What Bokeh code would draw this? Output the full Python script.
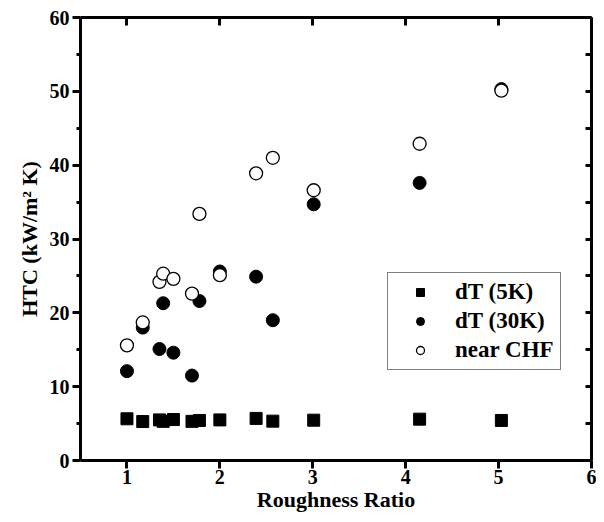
from bokeh.plotting import figure
from bokeh.models import LinearAxis, FixedTicker, Range1d, Legend, LegendItem
from bokeh.embed import file_html
from bokeh.resources import INLINE

# ---- data ----
roughness = [1.00, 1.17, 1.35, 1.39, 1.50, 1.70, 1.78, 2.00, 2.39, 2.57, 3.01, 4.15, 5.03]
htc_5k = [5.65, 5.28, 5.50, 5.30, 5.55, 5.30, 5.42, 5.50, 5.70, 5.33, 5.46, 5.60, 5.42]
htc_30k = [12.1, 18.0, 15.1, 21.3, 14.6, 11.5, 21.6, 25.6, 24.9, 19.0, 34.7, 37.6, 50.3]
htc_chf = [15.6, 18.7, 24.2, 25.3, 24.6, 22.6, 33.4, 25.1, 38.9, 41.0, 36.6, 42.9, 50.1]

series_names = ["dT (5K)", "dT (30K)", "near CHF"]
x_ticks = [1, 2, 3, 4, 5, 6]
y_ticks = [0, 10, 20, 30, 40, 50, 60]
y_minor = [5, 15, 25, 35, 45, 55]
y_all = [0, 5, 10, 15, 20, 25, 30, 35, 40, 45, 50, 55, 60]
x_title = "Roughness Ratio"
y_title = "HTC (kW/m\u00b2 K)"

FONT = "Liberation Serif"

p = figure(width=596, height=514,
           x_range=Range1d(0.5, 6), y_range=Range1d(0, 60),
           output_backend="svg", toolbar_location=None,
           x_axis_location=None, y_axis_location=None,
           min_border_left=80, min_border_right=5,
           min_border_top=17, min_border_bottom=54)
p.grid.visible = False
p.outline_line_color = None
p.background_fill_color = "white"
p.border_fill_color = "white"


def style(ax):
    ax.axis_line_width = 3
    ax.axis_line_color = "black"
    ax.major_tick_line_width = 3
    ax.minor_tick_line_width = 3
    ax.major_tick_line_color = "black"
    ax.minor_tick_line_color = "black"
    ax.major_label_text_font = FONT
    ax.major_label_text_font_style = "bold"
    ax.major_label_text_font_size = "20px"
    ax.major_label_text_color = "black"
    ax.axis_label_text_font = FONT
    ax.axis_label_text_font_style = "bold"
    ax.axis_label_text_font_size = "22px"
    ax.axis_label_text_color = "black"


bottom = LinearAxis(ticker=FixedTicker(ticks=x_ticks), axis_label=x_title)
style(bottom)
bottom.major_tick_out = 8
bottom.major_tick_in = 0
bottom.minor_tick_out = 0
bottom.minor_tick_in = 0
bottom.major_label_standoff = 1
bottom.axis_label_standoff = 0
p.add_layout(bottom, "below")

left = LinearAxis(ticker=FixedTicker(ticks=y_ticks, minor_ticks=y_minor), axis_label=y_title)
style(left)
left.major_tick_out = 8
left.major_tick_in = 0
left.minor_tick_out = 4
left.minor_tick_in = 0
left.major_label_standoff = 3
left.axis_label_standoff = 5
p.add_layout(left, "left")

top = LinearAxis(ticker=FixedTicker(ticks=x_ticks),
                 major_label_overrides={t: "" for t in x_ticks})
style(top)
top.major_tick_out = 0
top.major_tick_in = 8
top.minor_tick_out = 0
top.minor_tick_in = 0
top.major_label_standoff = 0
p.add_layout(top, "above")

right = LinearAxis(ticker=FixedTicker(ticks=y_all),
                   major_label_overrides={t: "" for t in y_all})
style(right)
right.major_tick_out = 0
right.major_tick_in = 6
right.minor_tick_out = 0
right.minor_tick_in = 0
right.major_label_standoff = 0
p.add_layout(right, "right")

r1 = p.scatter(roughness, htc_5k, marker="square", size=12,
               fill_color="black", line_color="black")
r2 = p.scatter(roughness, htc_30k, marker="circle", size=13,
               fill_color="black", line_color="black")
r3 = p.scatter(roughness, htc_chf, marker="circle", size=13,
               fill_color="white", line_color="black", line_width=1.3)

legend = Legend(items=[LegendItem(label=series_names[0], renderers=[r1]),
                       LegendItem(label=series_names[1], renderers=[r2]),
                       LegendItem(label=series_names[2], renderers=[r3])],
                location=(307, 90))
legend.label_text_font = FONT
legend.label_text_font_style = "bold"
legend.label_text_font_size = "23px"
legend.label_text_color = "black"
legend.border_line_color = "black"
legend.border_line_width = 1
legend.background_fill_color = "white"
legend.background_fill_alpha = 1
legend.padding = 6
legend.spacing = 3
legend.margin = 0
legend.glyph_width = 52
legend.glyph_height = 20
legend.label_height = 26
legend.label_standoff = 9
p.add_layout(legend)

open("out.html", "w").write(file_html(p, INLINE))
